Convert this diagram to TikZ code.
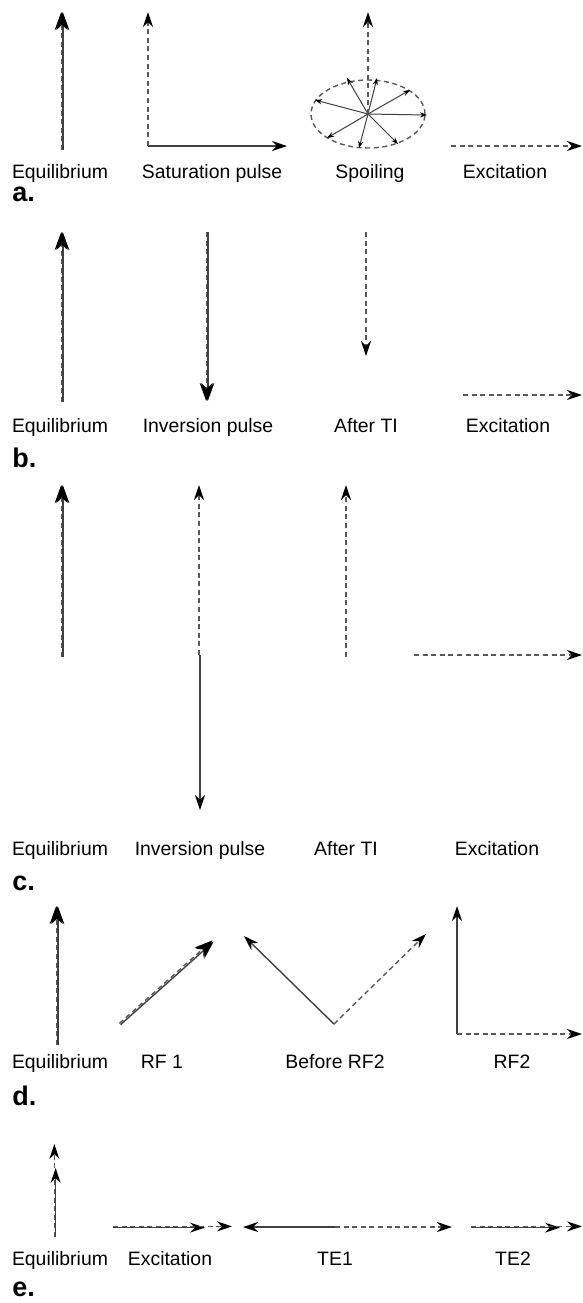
\documentclass[tikz,border=0pt]{standalone}
\usepackage{fontspec}
\setmainfont{Liberation Sans}
\usetikzlibrary{arrows.meta}

\tikzset{
  vec/.style={draw=black!75, line width=0.7pt, -{Stealth[length=7.5pt,width=5pt,black]}},
  dvec/.style={vec, draw=black!65, dash pattern=on 2.5pt off 1.8pt},
  bigvec/.style={vec, -{Stealth[length=9pt,width=6.5pt,black]}},
  bigdvec/.style={dvec, -{Stealth[length=9pt,width=6.5pt,black]}},
  spoke/.style={draw=black!75, line width=0.5pt, -{Stealth[length=3.5pt,width=2.6pt,black]}},
  lbl/.style={font=\fontsize{9.7}{11}\selectfont, anchor=base},
  panel/.style={font=\fontsize{13.5}{15}\selectfont\bfseries, anchor=base west, inner sep=0pt}
}

\begin{document}
\begin{tikzpicture}[x=0.5pt,y=-0.5pt]
\useasboundingbox (0,0) rectangle (583,1303);

% a.
\coordinate (a1o) at (62,150);
\coordinate (a1t) at (62,12);
\coordinate (a2o) at (148,146);
\coordinate (a2z) at (148,12);
\coordinate (a2x) at (287,146);
\coordinate (a3o) at (368,114);
\coordinate (a3t) at (368,12);
\coordinate (a4o) at (451,146);
\coordinate (a4t) at (582,146);
\draw[bigvec] ([xshift=0.4pt]a1o) -- ([xshift=0.4pt]a1t);
\draw[bigdvec] ([xshift=-0.4pt]a1o) -- ([xshift=-0.4pt]a1t);
\draw[dvec] (a2o) -- (a2z);
\draw[vec] (a2o) -- (a2x);
\draw[draw=black!65, dash pattern=on 2.5pt off 1.8pt, line width=0.7pt] (a3o) ellipse [x radius=28.5pt, y radius=17pt];
\draw[spoke] (a3o) -- (347,78);
\draw[spoke] (a3o) -- (377,78);
\draw[spoke] (a3o) -- (410,90);
\draw[spoke] (a3o) -- (427,115);
\draw[spoke] (a3o) -- (398,144);
\draw[spoke] (a3o) -- (359,148);
\draw[spoke] (a3o) -- (327,138);
\draw[spoke] (a3o) -- (315,100);
\draw[dvec] (a3o) -- (a3t);
\draw[dvec] (a4o) -- (a4t);
\node[lbl] (la1) at (60,178) {Equilibrium};
\node[lbl] (la2) at (212,178) {Saturation pulse};
\node[lbl] (la3) at (370,178) {Spoiling};
\node[lbl] (la4) at (505,178) {Excitation};
\node[panel] (pa) at (12,201) {a.};

% b.
\coordinate (b1o) at (62,402);
\coordinate (b1t) at (62,232);
\coordinate (b2o) at (207,232);
\coordinate (b2t) at (207,401);
\coordinate (b3o) at (366,232);
\coordinate (b3t) at (366,356);
\coordinate (b4o) at (463,395);
\coordinate (b4t) at (582,395);
\draw[bigvec] ([xshift=0.4pt]b1o) -- ([xshift=0.4pt]b1t);
\draw[bigdvec] ([xshift=-0.4pt]b1o) -- ([xshift=-0.4pt]b1t);
\draw[bigvec] ([xshift=0.4pt]b2o) -- ([xshift=0.4pt]b2t);
\draw[bigdvec] ([xshift=-0.4pt]b2o) -- ([xshift=-0.4pt]b2t);
\draw[dvec] (b3o) -- (b3t);
\draw[dvec] (b4o) -- (b4t);
\node[lbl] (lb1) at (60,432) {Equilibrium};
\node[lbl] (lb2) at (208,432) {Inversion pulse};
\node[lbl] (lb3) at (366,432) {After TI};
\node[lbl] (lb4) at (508,432) {Excitation};
\node[panel] (pb) at (12,467) {b.};

% c.
\coordinate (c1o) at (62,657);
\coordinate (c1t) at (62,485);
\coordinate (c2o) at (199,655);
\coordinate (c2t) at (199,485);
\coordinate (c2d) at (200,810);
\coordinate (c3o) at (346,657);
\coordinate (c3t) at (346,485);
\coordinate (c4o) at (414,655);
\coordinate (c4t) at (582,655);
\draw[bigvec] ([xshift=0.4pt]c1o) -- ([xshift=0.4pt]c1t);
\draw[bigdvec] ([xshift=-0.4pt]c1o) -- ([xshift=-0.4pt]c1t);
\draw[dvec] (c2o) -- (c2t);
\draw[vec] ([xshift=0.5pt]c2o) -- (c2d);
\draw[dvec] (c3o) -- (c3t);
\draw[dvec] (c4o) -- (c4t);
\node[lbl] (lc1) at (60,855) {Equilibrium};
\node[lbl] (lc2) at (200,855) {Inversion pulse};
\node[lbl] (lc3) at (346,855) {After TI};
\node[lbl] (lc4) at (497,855) {Excitation};
\node[panel] (pc) at (12,890) {c.};

% d.
\coordinate (d1o) at (57,1045);
\coordinate (d1t) at (57,906);
\coordinate (d2o) at (120,1024);
\coordinate (d2t) at (213,941);
\coordinate (d3o) at (334,1024);
\coordinate (d3l) at (244,936);
\coordinate (d3r) at (426,934);
\coordinate (d4o) at (457,1034);
\coordinate (d4z) at (457,906);
\coordinate (d4x) at (582,1034);
\draw[bigvec] ([xshift=0.4pt]d1o) -- ([xshift=0.4pt]d1t);
\draw[bigdvec] ([xshift=-0.4pt]d1o) -- ([xshift=-0.4pt]d1t);
\draw[bigvec] ([shift={(0.3pt,-0.3pt)}]d2o) -- ([shift={(0.3pt,-0.3pt)}]d2t);
\draw[bigdvec] ([shift={(-0.3pt,0.3pt)}]d2o) -- ([shift={(-0.3pt,0.3pt)}]d2t);
\draw[vec] (d3o) -- (d3l);
\draw[dvec] (d3o) -- (d3r);
\draw[vec] (d4o) -- (d4z);
\draw[dvec] (d4o) -- (d4x);
\node[lbl] (ld1) at (60,1068) {Equilibrium};
\node[lbl] (ld2) at (162,1068) {RF 1};
\node[lbl] (ld3) at (335,1068) {Before RF2};
\node[lbl] (ld4) at (512,1068) {RF2};
\node[panel] (pd) at (12,1105) {d.};

% e.
\coordinate (e1o) at (55,1237);
\coordinate (e1t) at (55,1144);
\coordinate (e1m) at (55,1168);
\coordinate (e2o) at (113,1227);
\coordinate (e2m) at (205,1227);
\coordinate (e2t) at (232,1227);
\coordinate (e3o) at (335,1227);
\coordinate (e3l) at (243,1227);
\coordinate (e3r) at (452,1227);
\coordinate (e4o) at (471,1227);
\coordinate (e4m) at (560,1227);
\coordinate (e4t) at (582,1227);
\draw[dvec] ([xshift=-0.3pt]e1o) -- ([xshift=-0.3pt]e1t);
\draw[vec] ([xshift=0.3pt]e1o) -- ([xshift=0.3pt]e1m);
\draw[vec] ([yshift=-0.3pt]e2o) -- ([yshift=-0.3pt]e2m);
\draw[dvec] ([yshift=0.3pt]e2o) -- ([yshift=0.3pt]e2t);
\draw[vec] (e3o) -- (e3l);
\draw[dvec] (e3o) -- (e3r);
\draw[vec] ([yshift=-0.3pt]e4o) -- ([yshift=-0.3pt]e4m);
\draw[dvec] ([yshift=0.3pt]e4o) -- ([yshift=0.3pt]e4t);
\node[lbl] (le1) at (60,1265) {Equilibrium};
\node[lbl] (le2) at (170,1265) {Excitation};
\node[lbl] (le3) at (335,1265) {TE1};
\node[lbl] (le4) at (513,1265) {TE2};
\node[panel] (pe) at (12,1296) {e.};
\end{tikzpicture}
\end{document}
